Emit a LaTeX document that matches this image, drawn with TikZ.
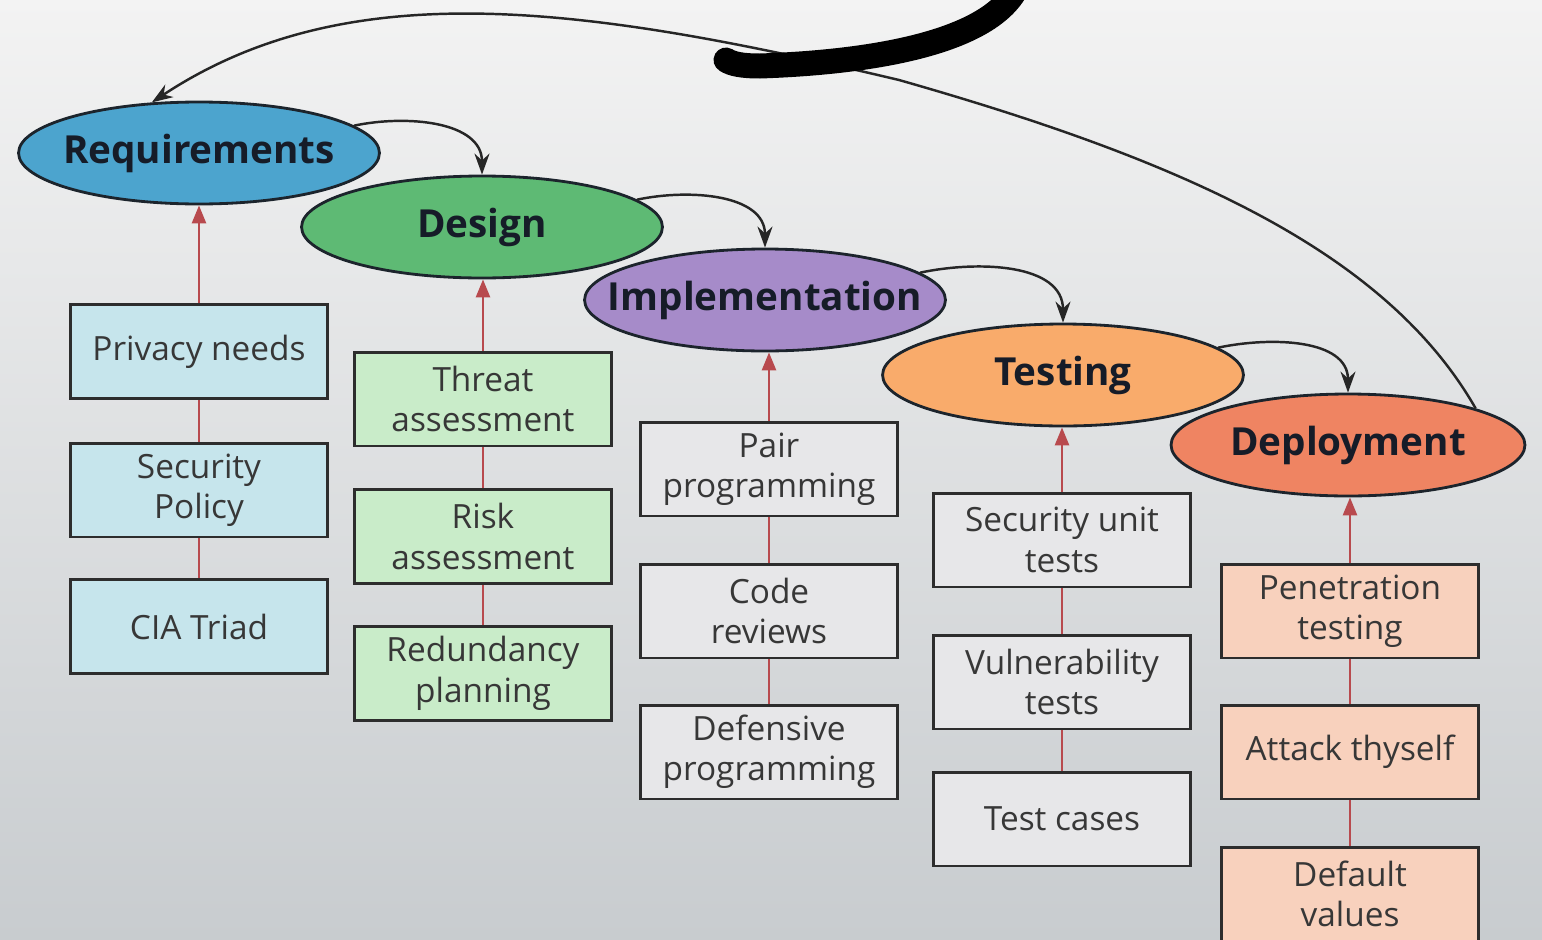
\documentclass[tikz,border=0pt]{standalone}
\usepackage{fontspec}
\setmainfont{Open Sans}
\usetikzlibrary{shapes.geometric,arrows.meta}
\definecolor{bgtop}{RGB}{243,243,243}
\definecolor{bgbot}{RGB}{200,204,207}
\definecolor{reqfill}{RGB}{76,164,206}
\definecolor{desfill}{RGB}{94,186,116}
\definecolor{impfill}{RGB}{166,139,201}
\definecolor{tstfill}{RGB}{249,171,107}
\definecolor{depfill}{RGB}{239,132,98}
\definecolor{reqbox}{RGB}{198,229,236}
\definecolor{desbox}{RGB}{201,236,201}
\definecolor{graybox}{RGB}{231,231,233}
\definecolor{depbox}{RGB}{248,209,189}
\definecolor{phaseline}{RGB}{28,36,44}
\definecolor{phasetext}{RGB}{22,28,40}
\definecolor{boxline}{RGB}{45,45,45}
\definecolor{itemtext}{RGB}{55,55,55}
\definecolor{linkred}{RGB}{184,74,78}
\begin{document}
\begin{tikzpicture}[x=0.02cm,y=-0.02cm,
  phase/.style={ellipse, draw=phaseline, line width=1.6pt, minimum width=7.22cm,
    minimum height=2.04cm, inner xsep=-0.8cm, inner ysep=0pt, text=phasetext,
    font=\fontsize{22}{26}\selectfont\bfseries},
  item/.style={rectangle, draw=boxline, line width=1.7pt, minimum width=5.16cm,
    minimum height=1.88cm, inner sep=0pt, align=center, text=itemtext,
    font=\fontsize{19}{23}\selectfont},
  link/.style={draw=linkred, line width=1.5pt},
  uparrow/.style={link, -{Triangle[length=0.36cm,width=0.28cm]}},
  flow/.style={draw=black!85, line width=1.4pt, -{Stealth[length=0.42cm,width=0.3cm]}},
  scribble/.style={draw=black, line width=0.5cm, line cap=round}
]
\useasboundingbox (0,0) rectangle (1542,940);
\fill[top color=bgtop, bottom color=bgbot] (0,0) rectangle (1542,940);

% phases
\node[phase, fill=reqfill] (req) at (199,153) {Requirements};
\node[phase, fill=desfill] (des) at (482,227) {Design};
\node[phase, fill=impfill] (imp) at (765,300) {Implementation};
\node[phase, fill=tstfill] (tst) at (1063,375) {Testing};
\node[phase, fill=depfill, minimum width=7.08cm] (dep) at (1348,445) {Deployment};

% requirement items
\node[item, fill=reqbox] (r1) at (199,351.5) {Privacy needs};
\node[item, fill=reqbox] (r2) at (199,490) {Security\\Policy};
\node[item, fill=reqbox] (r3) at (199,626.5) {CIA Triad};
% design items
\node[item, fill=desbox] (d1) at (483,399) {Threat\\assessment};
\node[item, fill=desbox] (d2) at (483,536.5) {Risk\\assessment};
\node[item, fill=desbox] (d3) at (483,673.5) {Redundancy\\planning};
% implementation items
\node[item, fill=graybox] (i1) at (769,469) {Pair\\programming};
\node[item, fill=graybox] (i2) at (769,611) {Code\\reviews};
\node[item, fill=graybox] (i3) at (769,752) {Defensive\\programming};
% testing items
\node[item, fill=graybox] (t1) at (1062,540) {Security unit\\tests};
\node[item, fill=graybox] (t2) at (1062,682) {Vulnerability\\tests};
\node[item, fill=graybox] (t3) at (1062,819) {Test cases};
% deployment items
\node[item, fill=depbox] (p1) at (1350,611) {Penetration\\testing};
\node[item, fill=depbox] (p2) at (1350,752) {Attack thyself};
\node[item, fill=depbox] (p3) at (1350,894) {Default\\values};

% red links
\foreach \a/\b/\c/\e in {r1/r2/r3/req, d1/d2/d3/des, i1/i2/i3/imp, t1/t2/t3/tst, p1/p2/p3/dep}{
  \draw[link] (\c.north) -- (\b.south);
  \draw[link] (\b.north) -- (\a.south);
  \draw[uparrow] (\a.north) -- (\a.north |- \e.south);
}

% flow arrows
\draw[flow] (req.10) to[out=12,in=90] (des.north);
\draw[flow] (des.10) to[out=12,in=90] (imp.north);
\draw[flow] (imp.10) to[out=12,in=90] (tst.north);
\draw[flow] (tst.10) to[out=12,in=90] (dep.north);

% feedback arc
\coordinate (m) at (899,80);
\draw[flow] (dep.16) .. controls (1385,250) and (1180,160) .. (m)
  .. controls (579,4) and (346,-26) .. (req.133);

% scribble
\draw[scribble] (1020,-20) .. controls (1000,40) and (880,62) .. (760,66)
  .. controls (742,66) and (732,64) .. (726,60);
\end{tikzpicture}
\end{document}
